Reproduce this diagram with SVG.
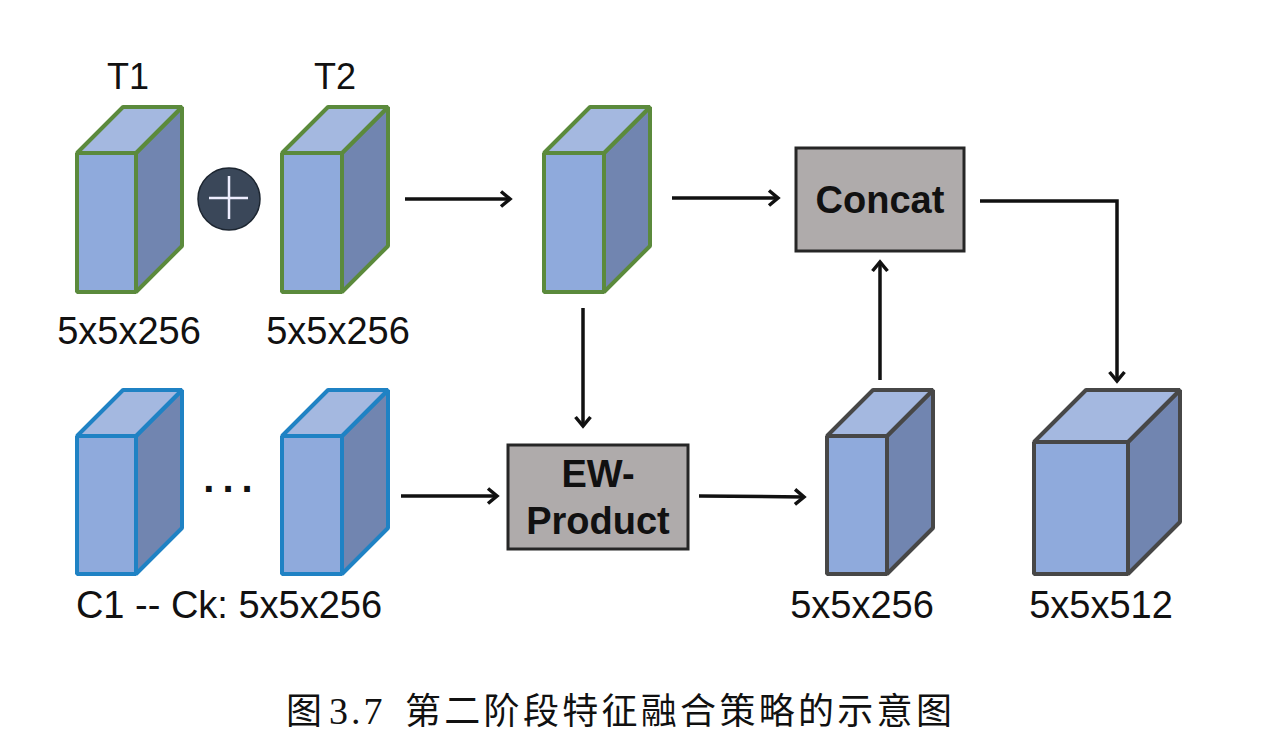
<svg xmlns="http://www.w3.org/2000/svg" width="1264" height="736" viewBox="0 0 1264 736">
<style>
text{font-family:"Liberation Sans",Arial,sans-serif;fill:#111;text-anchor:middle}
.lb{font-size:38px}
.tt{font-size:36px}
.bb{font-size:38px;font-weight:bold}
.f{fill:#8faadc}.t{fill:#a4b8e0}.s{fill:#7185b0}
.g polygon{stroke:#5b8a3c}
.b polygon{stroke:#1f82c4}
.d polygon{stroke:#474747}
polygon{stroke-width:4;stroke-linejoin:bevel}
.box{fill:#afabab;stroke:#262626;stroke-width:3}
.c{fill:none;stroke:#111;stroke-width:3.500;marker-end:url(#a)}
.cap{font-family:"Liberation Serif","Noto Sans CJK SC",serif;font-size:38px;letter-spacing:3px;text-anchor:start}
.cj{font-family:"Noto Sans CJK SC",serif;font-size:36px;letter-spacing:3.300px;text-anchor:start}
</style>
<defs>
<marker id="a" markerUnits="userSpaceOnUse" markerWidth="20" markerHeight="20" refX="13" refY="9" orient="auto">
<path d="M4 1.500L13 9L4 16.500" fill="none" stroke="#111" stroke-width="3.500"/>
</marker>
</defs>
<rect width="1264" height="736" fill="#fff"/>
<g id="cube-t1" class="g">
<polygon class="s" points="136,153 182,107 182,246 136,292"/><polygon class="t" points="77,153 123,107 182,107 136,153"/><polygon class="f" points="77,153 136,153 136,292 77,292"/>
</g>
<g id="cube-t2" class="g">
<polygon class="s" points="342,153 388,107 388,246 342,292"/><polygon class="t" points="282,153 328,107 388,107 342,153"/><polygon class="f" points="282,153 342,153 342,292 282,292"/>
</g>
<g id="cube-mid" class="g">
<polygon class="s" points="604,153 650,107 650,246 604,292"/><polygon class="t" points="544,153 590,107 650,107 604,153"/><polygon class="f" points="544,153 604,153 604,292 544,292"/>
</g>
<g id="cube-c1" class="b">
<polygon class="s" points="136,436 182,390 182,528 136,574"/><polygon class="t" points="77,436 123,390 182,390 136,436"/><polygon class="f" points="77,436 136,436 136,574 77,574"/>
</g>
<g id="cube-ck" class="b">
<polygon class="s" points="342,436 388,390 388,528 342,574"/><polygon class="t" points="282,436 328,390 388,390 342,436"/><polygon class="f" points="282,436 342,436 342,574 282,574"/>
</g>
<g id="cube-result" class="d">
<polygon class="s" points="887,436 933,390 933,528 887,574"/><polygon class="t" points="827,436 873,390 933,390 887,436"/><polygon class="f" points="827,436 887,436 887,574 827,574"/>
</g>
<g id="cube-out" class="d">
<polygon class="s" points="1128,442 1180,390 1180,522 1128,574"/><polygon class="t" points="1034,442 1086,390 1180,390 1128,442"/><polygon class="f" points="1034,442 1128,442 1128,574 1034,574"/>
</g>
<g id="plus">
<circle cx="229" cy="199" r="31" fill="#3a4759" stroke="#1c2530" stroke-width="1.500"/>
<path d="M209 198H248M229 176V219" stroke="#eef" stroke-width="2.500" fill="none"/>
</g>
<g id="concat"><rect class="box" x="796" y="148" width="168" height="103"/><text class="bb" x="880" y="213">Concat</text></g>
<g id="ew-product"><rect class="box" x="508" y="445" width="180" height="104"/><text class="bb" x="598" y="487">EW-</text><text class="bb" x="598" y="534">Product</text></g>
<g id="connectors">
<path class="c" d="M405 199H510"/>
<path class="c" d="M672 198H778"/>
<path class="c" d="M980 201H1117V381"/>
<path class="c" d="M880 380V262"/>
<path class="c" d="M583 308V426"/>
<path class="c" d="M401 496H497"/>
<path class="c" d="M699 496L804 497"/>
</g>
<g id="labels">
<text class="tt" x="128" y="89">T1</text>
<text class="tt" x="335" y="89">T2</text>
<text class="lb" x="129" y="344">5x5x256</text>
<text class="lb" x="338" y="344">5x5x256</text>
<text x="232" y="492" style="font-size:40px;font-weight:bold;letter-spacing:8px">...</text>
<text class="lb" x="229" y="618">C1 -- Ck: 5x5x256</text>
<text class="lb" x="862" y="618">5x5x256</text>
<text class="lb" x="1101" y="618">5x5x512</text>
</g>
<g id="caption">
<text class="cj" x="286" y="724">图</text>
<text class="cap" x="329" y="724">3.7</text>
<text class="cj" x="405" y="724">第二阶段特征融合策略的示意图</text>
</g>
</svg>
